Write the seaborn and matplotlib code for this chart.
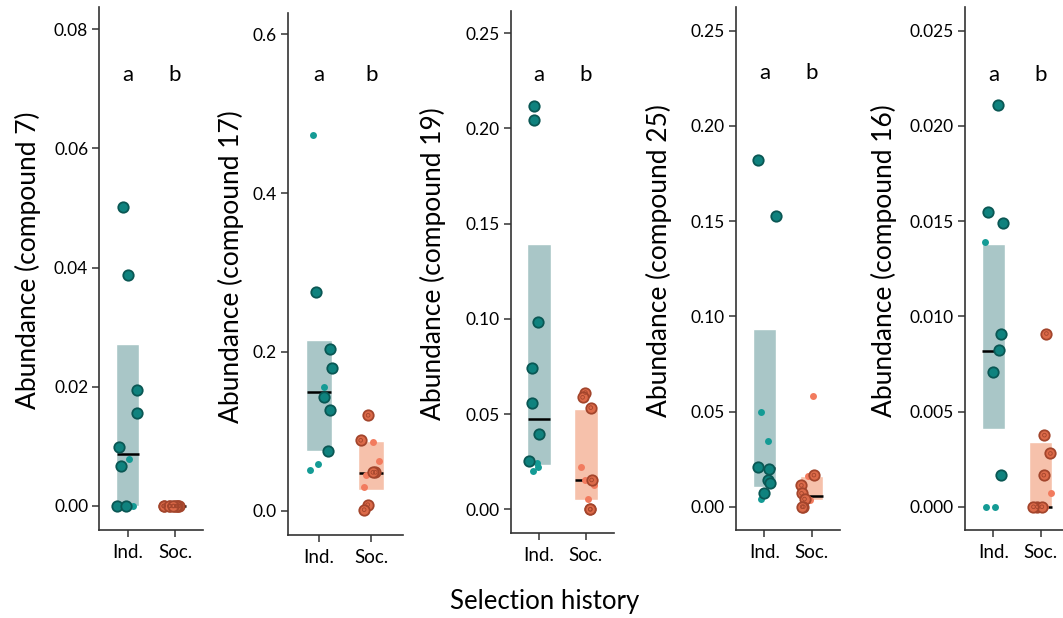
import numpy as np
import pandas as pd
import seaborn as sns
import matplotlib.pyplot as plt

sns.set_style("ticks")
plt.rcParams["font.family"] = ["Lato", "DejaVu Sans"]
plt.rcParams["text.color"] = "black"
plt.rcParams["axes.labelcolor"] = "black"
plt.rcParams["xtick.color"] = "black"
plt.rcParams["ytick.color"] = "black"

np.random.seed(3)

# ---------------------------------------------------------
# Data (big = ringed dots, small = plain dots)
# ---------------------------------------------------------
groups = ["Ind.", "Soc."]
compounds = ["7", "17", "19", "25", "16"]

c7_ind_big = [0.0502, 0.0387, 0.0195, 0.0156, 0.0099, 0.0067, 0.0, 0.0]
c7_ind_small = [0.0078, 0.0]
c7_soc_big = [0.0] * 10
c7_soc_small = []

c17_ind_big = [0.2756, 0.2042, 0.1798, 0.1433, 0.1265, 0.0756]
c17_ind_small = [0.473, 0.1559, 0.0588, 0.0508]
c17_soc_big = [0.1202, 0.0887, 0.0483, 0.0483, 0.0076, 0.0013]
c17_soc_small = [0.0861, 0.0630, 0.0454, 0.0294]

c19_ind_big = [0.2117, 0.2045, 0.0982, 0.0744, 0.0560, 0.0394, 0.0254]
c19_ind_small = [0.0242, 0.0224, 0.0201]
c19_soc_big = [0.0613, 0.0588, 0.0534, 0.0154, 0.0, 0.0]
c19_soc_small = [0.0224, 0.0154, 0.0126, 0.0053]

c25_ind_big = [0.1819, 0.1525, 0.0210, 0.0196, 0.0138, 0.0126, 0.0074]
c25_ind_small = [0.0495, 0.0343, 0.0039]
c25_soc_big = [0.0166, 0.0112, 0.0070, 0.0040, 0.0, 0.0]
c25_soc_small = [0.0583, 0.0161, 0.0035, 0.0004]

c16_ind_big = [0.02108, 0.01548, 0.01492, 0.00907, 0.00823, 0.00709, 0.00165]
c16_ind_small = [0.01392, 0.0, 0.0]
c16_soc_big = [0.00910, 0.00376, 0.00280, 0.00166, 0.0, 0.0, 0.0]
c16_soc_small = [0.0007, 0.0, 0.0]

# shaded intervals and medians, one value per compound
ind_lo = [0.0, 0.0748, 0.0233, 0.0102, 0.00411]
ind_hi = [0.0271, 0.2155, 0.1394, 0.0931, 0.01378]
ind_med = [0.0087, 0.150, 0.0476, 0.0201, 0.00818]
soc_lo = [0.0, 0.0265, 0.0049, 0.0035, 0.0]
soc_hi = [0.0, 0.0874, 0.0527, 0.0161, 0.00341]
soc_med = [0.0, 0.0475, 0.0154, 0.0058, 0.0]

# significance letters and y axes
letter_y = [0.0723, 0.549, 0.228, 0.2278, 0.02267]
yticks = [[0, 0.02, 0.04, 0.06, 0.08], [0, 0.2, 0.4, 0.6],
          [0, 0.05, 0.10, 0.15, 0.20, 0.25], [0, 0.05, 0.10, 0.15, 0.20, 0.25],
          [0, 0.005, 0.010, 0.015, 0.020, 0.025]]
yfmt = ["{:.2f}", "{:.1f}", "{:.2f}", "{:.2f}", "{:.3f}"]
ylims = [(-0.00403, 0.0837), (-0.0306, 0.627), (-0.0123, 0.2617),
         (-0.01224, 0.2625), (-0.00122, 0.02625)]

points = [
    (c7_ind_big, c7_ind_small, c7_soc_big, c7_soc_small),
    (c17_ind_big, c17_ind_small, c17_soc_big, c17_soc_small),
    (c19_ind_big, c19_ind_small, c19_soc_big, c19_soc_small),
    (c25_ind_big, c25_ind_small, c25_soc_big, c25_soc_small),
    (c16_ind_big, c16_ind_small, c16_soc_big, c16_soc_small),
]

# ---------------------------------------------------------
# Colours and layout (pixel positions of the original panels)
# ---------------------------------------------------------
box_col = {"Ind.": "#a9c6c7", "Soc.": "#f6c1ab"}
big_fill = {"Ind.": "#0f827e", "Soc.": "#dc6a49"}
big_edge = {"Ind.": "#0a5754", "Soc.": "#a3452c"}
small_fill = {"Ind.": "#149b95", "Soc.": "#f27b5e"}

W, H = 1063, 618
panels_px = [(99.3, 530, 104, 523), (287.7, 535, 115, 522), (510.7, 532.7, 103.3, 521.7),
             (736, 530, 104, 523), (965, 530, 104, 523)]
ylabel_x = [-0.56, -0.384, -0.626, -0.615, -0.655]

fig = plt.figure(figsize=(W / 100, H / 100), dpi=100)


def strip(ax, vals, grp, big):
    if len(vals) == 0:
        return
    d = pd.DataFrame({"group": grp, "value": vals})
    if big:
        sns.stripplot(data=d, x="group", y="value", order=groups, color=big_fill[grp],
                      edgecolor=big_edge[grp], linewidth=1.3, size=7.5, jitter=0.25,
                      ax=ax, zorder=4)
        off = ax.collections[-1].get_offsets()
        ax.scatter(off[:, 0], off[:, 1], s=7, facecolors="none",
                   edgecolors=big_edge[grp], linewidths=0.6, zorder=5)
    else:
        sns.stripplot(data=d, x="group", y="value", order=groups, color=small_fill[grp],
                      linewidth=0, size=5, jitter=0.25, ax=ax, zorder=3)


for i, comp in enumerate(compounds):
    left, bottom, w, h = panels_px[i]
    ax = fig.add_axes([left / W, 1 - bottom / H, w / W, h / H])

    lo = [ind_lo[i], soc_lo[i]]
    hi = [ind_hi[i], soc_hi[i]]
    ax.bar(groups, np.array(hi) - np.array(lo), bottom=lo, width=0.5,
           color=[box_col[g] for g in groups], zorder=1)
    for k, m in enumerate([ind_med[i], soc_med[i]]):
        ax.hlines(m, k - 0.23, k + 0.23, color="black", lw=1.8, zorder=2)

    ib, ismall, sb, ssmall = points[i]
    strip(ax, ismall, "Ind.", False)
    strip(ax, ssmall, "Soc.", False)
    strip(ax, ib, "Ind.", True)
    strip(ax, sb, "Soc.", True)

    for k, letter in enumerate(["a", "b"]):
        ax.text(k, letter_y[i], letter, ha="center", va="center", fontsize=16)

    ax.set_xlim(-0.6, 1.6)
    ax.set_ylim(*ylims[i])
    ax.set_yticks(yticks[i])
    ax.set_yticklabels([yfmt[i].format(t) for t in yticks[i]], fontsize=12.5)
    ax.set_xticks([0, 1])
    ax.set_xticklabels(groups, fontsize=13.5)
    ax.tick_params(axis="both", length=5, width=1.1, color="#333333", pad=3)
    ax.tick_params(axis="x", pad=5)
    ax.set_xlabel("")
    ax.set_ylabel(f"Abundance (compound {comp})", fontsize=19)
    ax.yaxis.set_label_coords(ylabel_x[i], 0.515)
    sns.despine(ax=ax)
    for s in ["left", "bottom"]:
        ax.spines[s].set_linewidth(1.2)
        ax.spines[s].set_color("#333333")

fig.text(545 / W, 1 - 601 / H, "Selection history", ha="center", va="center", fontsize=18.5)

fig.savefig("out.png", dpi=100)
